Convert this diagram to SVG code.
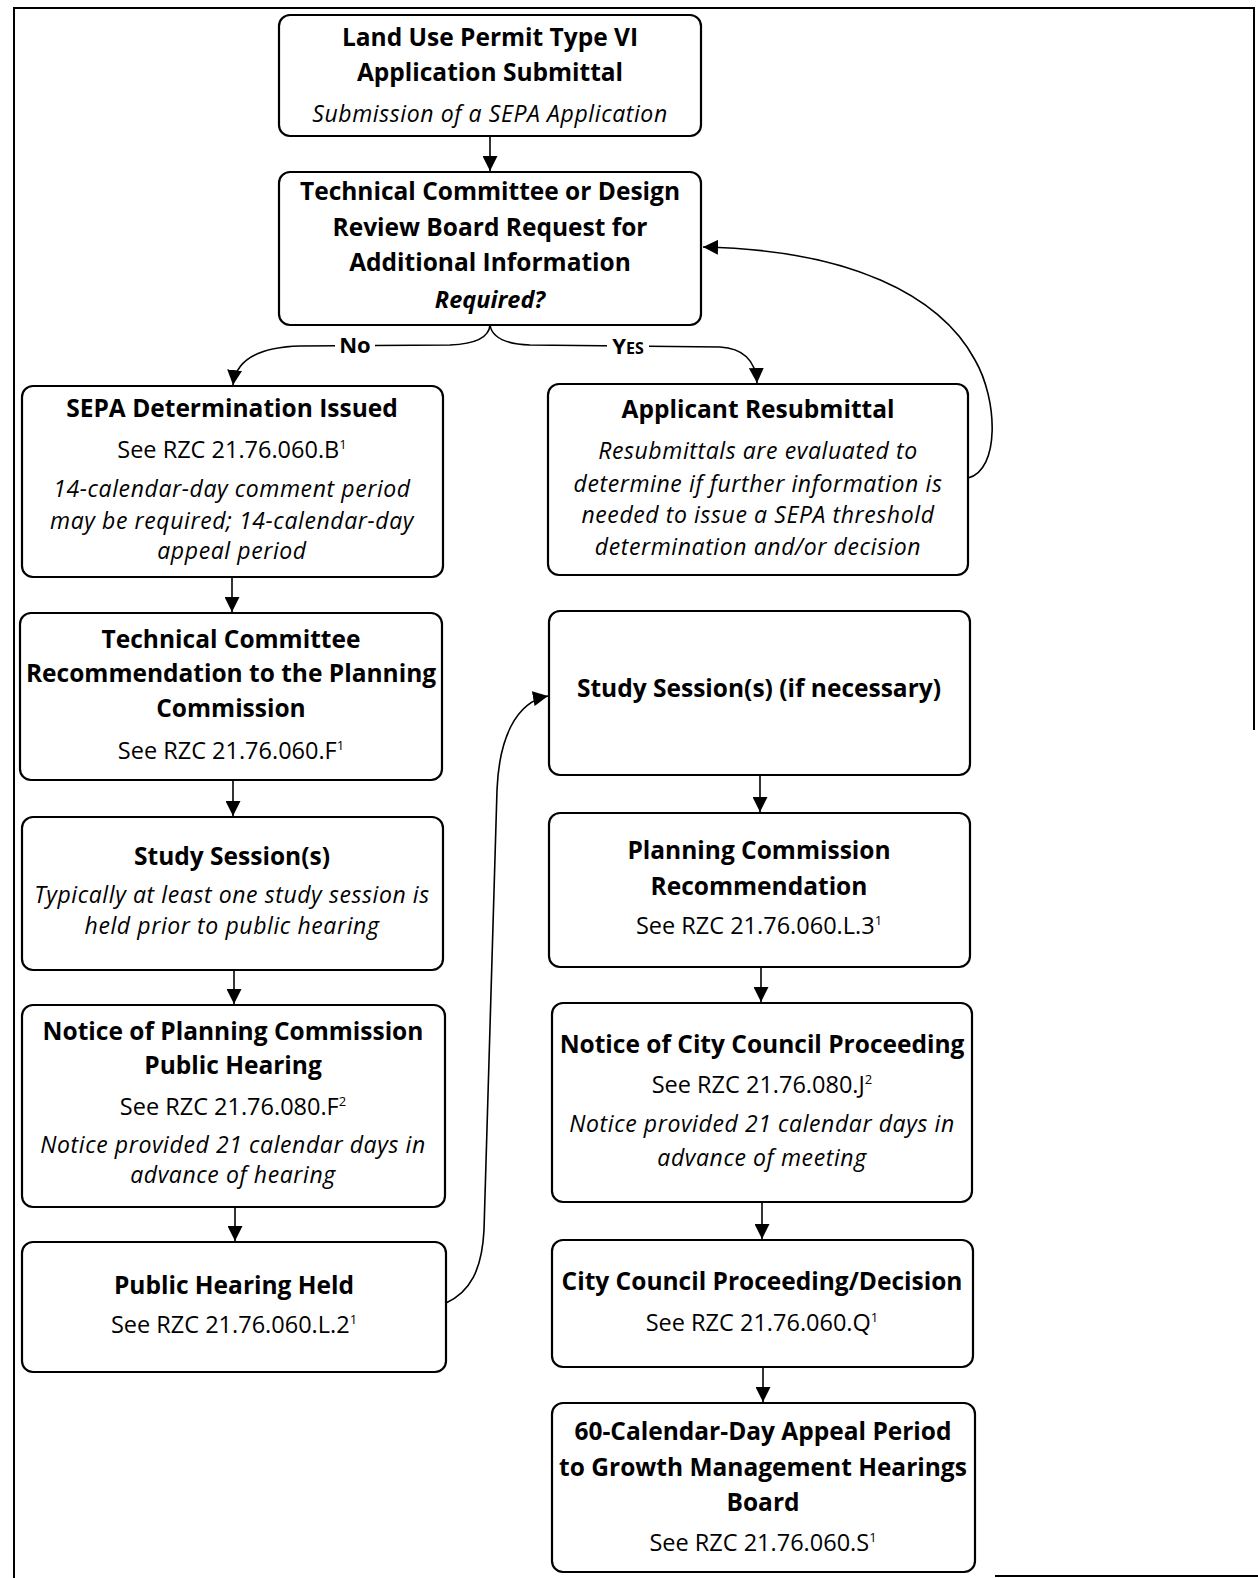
<svg xmlns="http://www.w3.org/2000/svg" width="1258" height="1578" viewBox="0 0 1258 1578">
<defs>
<marker id="ah" markerUnits="userSpaceOnUse" markerWidth="15" markerHeight="15" refX="15" refY="7.5" orient="auto">
<path d="M0,0 L15,7.5 L0,15 Z" fill="#000"/>
</marker>
<style>
.box{fill:#fff;stroke:#000;stroke-width:2.2}
.frame{fill:none;stroke:#000;stroke-width:2}
.conn{fill:none;stroke:#000;stroke-width:1.6;marker-end:url(#ah)}
text{font-family:"Open Sans","Liberation Sans",sans-serif;fill:#000;text-anchor:middle}
.b{font-weight:bold;font-size:24.5px}
.r{font-size:23.5px}
.i{font-style:italic;font-size:23px;letter-spacing:0.6px}
.bi{font-weight:bold;font-style:italic;font-size:23.5px}
.lbl{font-weight:bold;font-size:22px}
.sup{font-size:13px}
</style>
</defs>
<rect width="1258" height="1578" fill="#fff"/>
<g id="frame">
<path class="frame" d="M14,1578 L14,8 L1254,8 L1254,730"/>
<path class="frame" d="M995,1576 L1258,1576"/>
</g>
<g id="connectors">
<path class="conn" d="M490,136 L490,171"/>
<path class="conn" d="M490,325 C489,338 475,344 450,345 L300,346 C262,347 236,358 233,385"/>
<path class="conn" d="M490,325 C492,338 505,344 530,345 L720,347 C742,348 756,360 757,383"/>
<path class="conn" d="M968,478 C1000,470 998,400 975,360 C940,295 850,250 703,247"/>
<path class="conn" d="M232,577 L232,612"/>
<path class="conn" d="M233,780 L233,816"/>
<path class="conn" d="M234,970 L234,1004"/>
<path class="conn" d="M235,1207 L235,1241"/>
<path class="conn" d="M760,775 L760,812"/>
<path class="conn" d="M761,967 L761,1002"/>
<path class="conn" d="M762,1202 L762,1239"/>
<path class="conn" d="M763,1367 L763,1402"/>
<path class="conn" d="M446,1303 C470,1292 482,1270 484,1230 L497,790 C499,740 515,702 548,696"/>
<rect x="335" y="334" width="40" height="22" fill="#fff"/>
<text class="lbl" x="355" y="353">No</text>
<rect x="607" y="334" width="42" height="22" fill="#fff"/>
<text class="lbl" x="628" y="354">Y<tspan font-size="16">ES</tspan></text>
</g>
<g id="n1">
<rect class="box" x="279" y="15" width="422" height="121" rx="11"/>
<text class="b" x="490" y="46">Land Use Permit Type VI</text>
<text class="b" x="490" y="81">Application Submittal</text>
<text class="i" x="490" y="122">Submission of a SEPA Application</text>
</g>
<g id="n2">
<rect class="box" x="279" y="172" width="422" height="153" rx="11"/>
<text class="b" x="490" y="200">Technical Committee or Design</text>
<text class="b" x="490" y="236">Review Board Request for</text>
<text class="b" x="490" y="271">Additional Information</text>
<text class="bi" x="490" y="308">Required?</text>
</g>
<g id="n3">
<rect class="box" x="22" y="386" width="421" height="191" rx="11"/>
<text class="b" x="232" y="417">SEPA Determination Issued</text>
<text class="r" x="232" y="458">See RZC 21.76.060.B<tspan class="sup" dy="-9">1</tspan></text>
<text class="i" x="232" y="497">14-calendar-day comment period</text>
<text class="i" x="232" y="529">may be required; 14-calendar-day</text>
<text class="i" x="232" y="559">appeal period</text>
</g>
<g id="n4">
<rect class="box" x="548" y="384" width="420" height="191" rx="11"/>
<text class="b" x="758" y="418">Applicant Resubmittal</text>
<text class="i" x="758" y="459">Resubmittals are evaluated to</text>
<text class="i" x="758" y="492">determine if further information is</text>
<text class="i" x="758" y="523">needed to issue a SEPA threshold</text>
<text class="i" x="758" y="555">determination and/or decision</text>
</g>
<g id="n5">
<rect class="box" x="20" y="613" width="422" height="167" rx="11"/>
<text class="b" x="231" y="648">Technical Committee</text>
<text class="b" x="231" y="682">Recommendation to the Planning</text>
<text class="b" x="231" y="717">Commission</text>
<text class="r" x="231" y="759">See RZC 21.76.060.F<tspan class="sup" dy="-9">1</tspan></text>
</g>
<g id="n6">
<rect class="box" x="549" y="611" width="421" height="164" rx="11"/>
<text class="b" x="759" y="697">Study Session(s) (if necessary)</text>
</g>
<g id="n7">
<rect class="box" x="22" y="817" width="421" height="153" rx="11"/>
<text class="b" x="232" y="865">Study Session(s)</text>
<text class="i" x="232" y="903">Typically at least one study session is</text>
<text class="i" x="232" y="934">held prior to public hearing</text>
</g>
<g id="n8">
<rect class="box" x="549" y="813" width="421" height="154" rx="11"/>
<text class="b" x="759" y="859">Planning Commission</text>
<text class="b" x="759" y="895">Recommendation</text>
<text class="r" x="759" y="934">See RZC 21.76.060.L.3<tspan class="sup" dy="-9">1</tspan></text>
</g>
<g id="n9">
<rect class="box" x="22" y="1005" width="423" height="202" rx="11"/>
<text class="b" x="233" y="1040">Notice of Planning Commission</text>
<text class="b" x="233" y="1074">Public Hearing</text>
<text class="r" x="233" y="1115">See RZC 21.76.080.F<tspan class="sup" dy="-9">2</tspan></text>
<text class="i" x="233" y="1153">Notice provided 21 calendar days in</text>
<text class="i" x="233" y="1183">advance of hearing</text>
</g>
<g id="n10">
<rect class="box" x="552" y="1003" width="420" height="199" rx="11"/>
<text class="b" x="762" y="1053">Notice of City Council Proceeding</text>
<text class="r" x="762" y="1093">See RZC 21.76.080.J<tspan class="sup" dy="-9">2</tspan></text>
<text class="i" x="762" y="1132">Notice provided 21 calendar days in</text>
<text class="i" x="762" y="1166">advance of meeting</text>
</g>
<g id="n11">
<rect class="box" x="22" y="1242" width="424" height="130" rx="11"/>
<text class="b" x="234" y="1294">Public Hearing Held</text>
<text class="r" x="234" y="1333">See RZC 21.76.060.L.2<tspan class="sup" dy="-9">1</tspan></text>
</g>
<g id="n12">
<rect class="box" x="552" y="1240" width="421" height="127" rx="11"/>
<text class="b" x="762" y="1290">City Council Proceeding/Decision</text>
<text class="r" x="762" y="1331">See RZC 21.76.060.Q<tspan class="sup" dy="-9">1</tspan></text>
</g>
<g id="n13">
<rect class="box" x="552" y="1403" width="423" height="169" rx="11"/>
<text class="b" x="763" y="1440">60-Calendar-Day Appeal Period</text>
<text class="b" x="763" y="1476">to Growth Management Hearings</text>
<text class="b" x="763" y="1511">Board</text>
<text class="r" x="763" y="1551">See RZC 21.76.060.S<tspan class="sup" dy="-9">1</tspan></text>
</g>
</svg>
